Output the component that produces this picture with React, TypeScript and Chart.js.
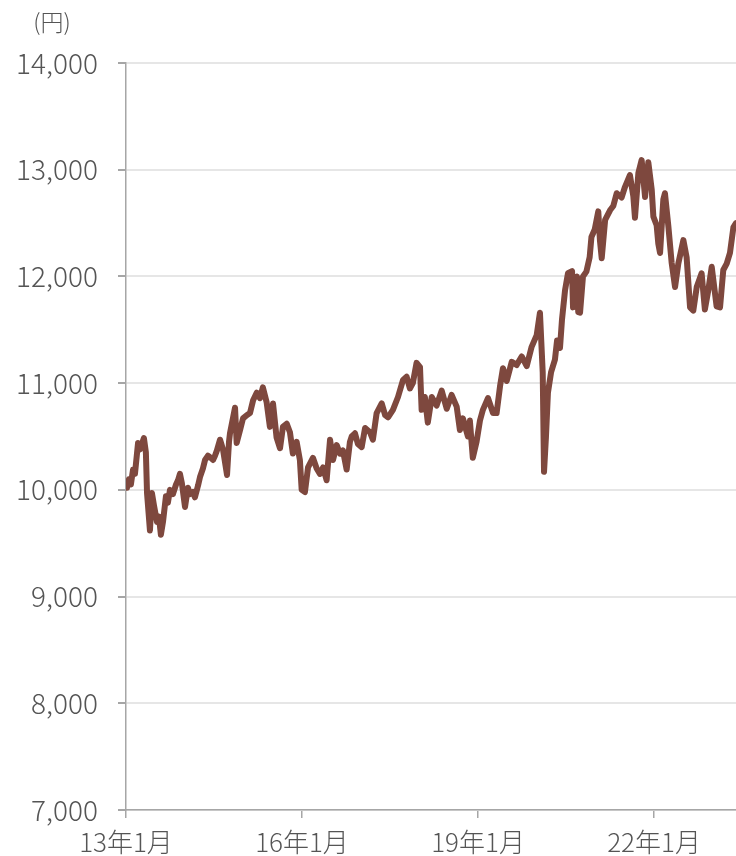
import React, { useEffect, useRef } from "react";
import { Chart, registerables } from "chart.js";

Chart.register(...registerables);

const dates: string[] = [
  "2013-01-01", "2013-01-07", "2013-01-19", "2013-02-01", "2013-02-14", "2013-02-26", "2013-03-15", "2013-03-27",
  "2013-04-21", "2013-05-03", "2013-05-10", "2013-05-28", "2013-06-10", "2013-06-23", "2013-07-11", "2013-07-23",
  "2013-08-05", "2013-08-18", "2013-09-06", "2013-09-18", "2013-10-01", "2013-10-19", "2013-11-08", "2013-11-20",
  "2013-12-02", "2013-12-14", "2014-01-03", "2014-01-21", "2014-02-03", "2014-02-21", "2014-03-04", "2014-03-23",
  "2014-04-05", "2014-04-23", "2014-05-06", "2014-05-24", "2014-06-12", "2014-06-25", "2014-07-07", "2014-07-19",
  "2014-08-08", "2014-08-26", "2014-09-21", "2014-10-03", "2014-10-09", "2014-11-10", "2014-11-20", "2014-12-11",
  "2014-12-29", "2015-01-22", "2015-02-12", "2015-03-01", "2015-03-23", "2015-04-13", "2015-05-01", "2015-05-24",
  "2015-06-14", "2015-07-03", "2015-07-25", "2015-08-16", "2015-09-04", "2015-09-27", "2015-10-17", "2015-11-05",
  "2015-11-28", "2015-12-18", "2015-12-29", "2016-01-19", "2016-02-08", "2016-03-08", "2016-04-01", "2016-04-21",
  "2016-05-10", "2016-06-02", "2016-06-23", "2016-07-11", "2016-08-04", "2016-08-24", "2016-09-12", "2016-10-05",
  "2016-10-25", "2016-11-06", "2016-11-26", "2016-12-14", "2017-01-07", "2017-01-28", "2017-02-28", "2017-03-16",
  "2017-04-09", "2017-05-10", "2017-06-01", "2017-06-19", "2017-07-19", "2017-08-20", "2017-09-21", "2017-10-13",
  "2017-11-03", "2017-11-21", "2017-12-14", "2018-01-05", "2018-01-15", "2018-02-05", "2018-02-23", "2018-03-17",
  "2018-04-17", "2018-05-18", "2018-06-19", "2018-07-19", "2018-08-20", "2018-09-10", "2018-09-28", "2018-10-29",
  "2018-11-11", "2018-11-29", "2018-12-22", "2019-01-13", "2019-02-01", "2019-03-02", "2019-04-03", "2019-04-25",
  "2019-05-16", "2019-06-04", "2019-06-27", "2019-07-28", "2019-08-28", "2019-09-29", "2019-10-30", "2019-11-30",
  "2020-01-01", "2020-01-21", "2020-02-08", "2020-02-16", "2020-02-28", "2020-03-10", "2020-03-29", "2020-04-23",
  "2020-05-06", "2020-05-24", "2020-06-06", "2020-06-25", "2020-07-13", "2020-08-08", "2020-08-14", "2020-09-08",
  "2020-09-16", "2020-09-27", "2020-10-15", "2020-11-06", "2020-11-26", "2020-12-07", "2020-12-27", "2021-01-19",
  "2021-01-29", "2021-02-10", "2021-03-01", "2021-04-01", "2021-04-21", "2021-05-12", "2021-06-12", "2021-07-03",
  "2021-08-03", "2021-08-24", "2021-09-04", "2021-09-25", "2021-10-15", "2021-11-06", "2021-11-26", "2021-12-17",
  "2021-12-27", "2022-01-17", "2022-01-27", "2022-02-08", "2022-02-28", "2022-03-08", "2022-03-29", "2022-04-19",
  "2022-05-10", "2022-05-30", "2022-07-01", "2022-07-21", "2022-08-12", "2022-09-02", "2022-09-23", "2022-10-23",
  "2022-11-13", "2022-12-04", "2022-12-25", "2023-01-25", "2023-02-16", "2023-03-06", "2023-03-27", "2023-04-17",
  "2023-05-08", "2023-05-24",
];

const prices: number[] = [
  10020, 10030, 10100, 10050, 10190, 10150, 10440, 10380,
  10485, 10350, 9970, 9620, 9970, 9850, 9700, 9750,
  9580, 9700, 9940, 9880, 10000, 9960, 10050, 10090,
  10150, 10060, 9840, 10020, 9960, 9980, 9930, 10040,
  10120, 10200, 10280, 10320, 10300, 10280, 10320, 10370,
  10470, 10380, 10140, 10450, 10530, 10770, 10440, 10560,
  10670, 10700, 10720, 10840, 10910, 10860, 10960, 10820,
  10590, 10810, 10490, 10390, 10590, 10620, 10540, 10340,
  10450, 10280, 10000, 9980, 10210, 10300, 10200, 10150,
  10210, 10090, 10470, 10280, 10420, 10340, 10370, 10190,
  10450, 10500, 10530, 10430, 10400, 10580, 10540, 10470,
  10720, 10810, 10700, 10680, 10750, 10870, 11030, 11060,
  10950, 11000, 11190, 11150, 10750, 10870, 10630, 10870,
  10790, 10930, 10760, 10890, 10780, 10560, 10670, 10500,
  10650, 10300, 10450, 10650, 10750, 10860, 10720, 10720,
  10970, 11140, 11020, 11200, 11170, 11250, 11160, 11340,
  11450, 11660, 11100, 10170, 10500, 10910, 11100, 11220,
  11400, 11330, 11590, 11870, 12030, 12050, 11710, 12000,
  11665, 11660, 12000, 12045, 12180, 12370, 12440, 12610,
  12340, 12170, 12530, 12620, 12660, 12780, 12740, 12840,
  12950, 12750, 12550, 12970, 13090, 12745, 13070, 12810,
  12560, 12480, 12310, 12220, 12720, 12780, 12470, 12130,
  11900, 12120, 12340, 12180, 11710, 11680, 11900, 12030,
  11690, 11870, 12090, 11720, 11710, 12060, 12120, 12220,
  12460, 12500,
];

const xStart = "2013-01-01";
const xEnd = "2023-05-24";
const tickDates: string[] = ["2013-01-01", "2016-01-01", "2019-01-01", "2022-01-01"];
const tickLabels: string[] = ["13年1月", "16年1月", "19年1月", "22年1月"];
const yMin = 7000;
const yMax = 14000;
const yStep = 1000;
const unitLabel = "(円)";

function monthIndex(d: string): number {
  const [y, m, day] = d.split("-").map(Number);
  const [y0, m0] = xStart.split("-").map(Number);
  return (y - y0) * 12 + (m - m0) + (day - 1) / 30;
}

const TEXT = "#555555";
const AXIS = "#a6a6a6";
const FONT = "'Noto Sans CJK JP', 'Noto Sans', sans-serif";

const unitPlugin = {
  id: "unitLabel",
  afterDraw(chart: any) {
    const ctx = chart.ctx;
    ctx.save();
    ctx.font = `300 23px ${FONT}`;
    ctx.fillStyle = TEXT;
    ctx.textAlign = "center";
    ctx.textBaseline = "middle";
    ctx.fillText(unitLabel, 52, 22);
    ctx.restore();
  },
};

export default function App() {
  const ref = useRef<HTMLCanvasElement | null>(null);

  useEffect(() => {
    document.body.style.margin = "0";
    if (!ref.current) return;
    const chart = new Chart(ref.current, {
      type: "line",
      data: {
        datasets: [
          {
            data: dates.map((d, i) => ({ x: monthIndex(d), y: prices[i] })),
            borderColor: "#7e483e",
            borderWidth: 6,
            pointRadius: 0,
            tension: 0,
            borderJoinStyle: "round",
            borderCapStyle: "round",
          },
        ],
      },
      options: {
        animation: false,
        responsive: false,
        devicePixelRatio: 1,
        layout: { padding: { top: 63, left: 0, right: 0, bottom: 0 } },
        plugins: { legend: { display: false }, tooltip: { enabled: false } },
        scales: {
          x: {
            type: "linear",
            min: monthIndex(xStart),
            max: monthIndex(xEnd),
            afterBuildTicks: (scale: any) => {
              scale.ticks = tickDates.map((d) => ({ value: monthIndex(d) }));
            },
            afterFit: (scale: any) => {
              scale.height = 46;
            },
            ticks: {
              autoSkip: false,
              maxRotation: 0,
              padding: 9,
              color: TEXT,
              font: { family: FONT, size: 26, weight: "300" },
              callback: (_v: any, i: number) => tickLabels[i],
            },
            grid: { drawOnChartArea: false, drawTicks: true, tickLength: 8, tickColor: AXIS, lineWidth: 1.5 },
            border: { display: true, color: AXIS, width: 1.5 },
          },
          y: {
            min: yMin,
            max: yMax,
            afterFit: (scale: any) => {
              scale.width = 126;
            },
            ticks: {
              stepSize: yStep,
              padding: 20,
              color: TEXT,
              font: { family: FONT, size: 28, weight: "300" },
              callback: (v: any) => Number(v).toLocaleString("en-US"),
            },
            grid: { color: "#e6e6e6", lineWidth: 2, tickLength: 8, tickColor: AXIS },
            border: { display: true, color: AXIS, width: 1.5 },
          },
        },
      },
      plugins: [unitPlugin],
    });
    return () => chart.destroy();
  }, []);

  return (
    <div style={{ width: 736, height: 856, background: "#fff" }}>
      <canvas ref={ref} width={736} height={856} style={{ display: "block" }} />
    </div>
  );
}
